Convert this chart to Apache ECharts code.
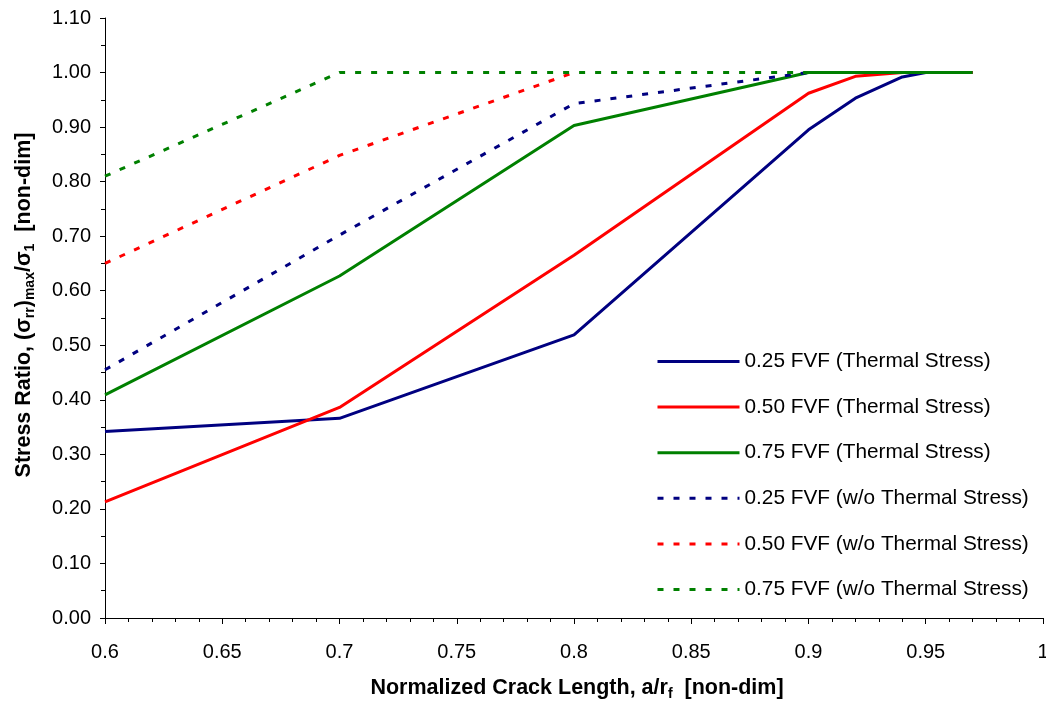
<!DOCTYPE html>
<html>
<head>
<meta charset="utf-8">
<script src="https://cdn.jsdelivr.net/npm/echarts@6/dist/echarts.min.js"></script>
<style>
html,body{margin:0;padding:0;background:#fff;}
#chart{width:1046px;height:702px;}
</style>
</head>
<body>
<div id="chart"></div>
<script>
// Data
var xThermal25 = [0.6, 0.7, 0.8, 0.9, 0.92, 0.94, 0.95, 0.97];
var yThermal25 = [0.342, 0.366, 0.519, 0.895, 0.953, 0.992, 1.0, 1.0];
var xThermal50 = [0.6, 0.7, 0.8, 0.9, 0.92, 0.94, 0.97];
var yThermal50 = [0.213, 0.386, 0.665, 0.962, 0.993, 1.0, 1.0];
var xThermal75 = [0.6, 0.7, 0.8, 0.9, 0.97];
var yThermal75 = [0.409, 0.627, 0.903, 1.0, 1.0];
var xNoThermal25 = [0.6, 0.7, 0.8, 0.9];
var yNoThermal25 = [0.455, 0.702, 0.943, 1.0];
var xNoThermal50 = [0.6, 0.7, 0.8];
var yNoThermal50 = [0.65, 0.848, 1.0];
var xNoThermal75 = [0.6, 0.7, 0.8, 0.9];
var yNoThermal75 = [0.81, 1.0, 1.0, 1.0];
var seriesNames = [
  '0.25 FVF (Thermal Stress)',
  '0.50 FVF (Thermal Stress)',
  '0.75 FVF (Thermal Stress)',
  '0.25 FVF (w/o Thermal Stress)',
  '0.50 FVF (w/o Thermal Stress)',
  '0.75 FVF (w/o Thermal Stress)'
];

function pairs(xs, ys){ return xs.map(function(x,i){ return [x, ys[i]]; }); }

var FONT = '"Liberation Sans", Arial, sans-serif';
var colors = ['#000080', '#FF0000', '#008000', '#000080', '#FF0000', '#008000'];
var dataSets = [
  pairs(xThermal25, yThermal25), pairs(xThermal50, yThermal50), pairs(xThermal75, yThermal75),
  pairs(xNoThermal25, yNoThermal25), pairs(xNoThermal50, yNoThermal50), pairs(xNoThermal75, yNoThermal75)
];

var series = dataSets.map(function(d, i){
  return {
    name: seriesNames[i],
    type: 'line',
    data: d,
    showSymbol: false,
    symbol: 'none',
    animation: false,
    lineStyle: { color: colors[i], width: 3, type: i < 3 ? 'solid' : [6, 10] },
    itemStyle: { color: colors[i] }
  };
});

function richT(){
  return {
    b: { fontFamily: FONT, fontSize: 21.5, fontWeight: 'bold', color: '#000', lineHeight: 26, verticalAlign: 'middle' },
    s: { fontFamily: FONT, fontSize: 14, fontWeight: 'bold', color: '#000', lineHeight: 14, verticalAlign: 'bottom' }
  };
}

var chart = echarts.init(document.getElementById('chart'), null, {renderer: 'canvas'});
chart.setOption({
  backgroundColor: '#fff',
  animation: false,
  grid: { left: 105, right: 3, top: 18, bottom: 84, containLabel: false, outerBoundsMode: 'none' },
  legend: {
    orient: 'vertical',
    left: 651,
    top: 346,
    itemWidth: 82,
    itemHeight: 20,
    itemGap: 24.6,
    itemStyle: { opacity: 0 },
    lineStyle: { width: 3 },
    textStyle: { fontFamily: FONT, fontSize: 20.8, color: '#000' },
    data: seriesNames
  },
  xAxis: {
    type: 'value',
    min: 0.6, max: 1.0, interval: 0.05,
    name: '{b|Normalized Crack Length, a/r}{s|f}{b|  [non-dim]}',
    nameLocation: 'middle',
    nameGap: 57,
    nameTextStyle: { rich: richT(), padding: [0, 0, 0, 6] },
    axisLine: { show: true, lineStyle: { color: '#000', width: 1 } },
    axisTick: { show: true, length: 6, lineStyle: { color: '#000' } },
    minorTick: { show: true, splitNumber: 5, length: 4, lineStyle: { color: '#000' } },
    splitLine: { show: false },
    axisLabel: { fontFamily: FONT, fontSize: 20, color: '#000', margin: 24 }
  },
  yAxis: {
    type: 'value',
    min: 0, max: 1.1, interval: 0.1,
    name: '{b|Stress Ratio, (σ}{s|rr}{b|)}{s|max}{b|/σ}{s|1}{b|  [non-dim]}',
    nameLocation: 'middle',
    nameGap: 68,
    nameRotate: 90,
    nameTextStyle: { rich: richT(), padding: [0, 0, 0, 26] },
    axisLine: { show: true, lineStyle: { color: '#000', width: 1 } },
    axisTick: { show: true, length: 5, lineStyle: { color: '#000' } },
    minorTick: { show: true, splitNumber: 2, length: 4, lineStyle: { color: '#000' } },
    splitLine: { show: false },
    axisLabel: { fontFamily: FONT, fontSize: 20, color: '#000', margin: 14,
      formatter: function(v){ return v.toFixed(2); } }
  },
  series: series
});
</script>
</body>
</html>
